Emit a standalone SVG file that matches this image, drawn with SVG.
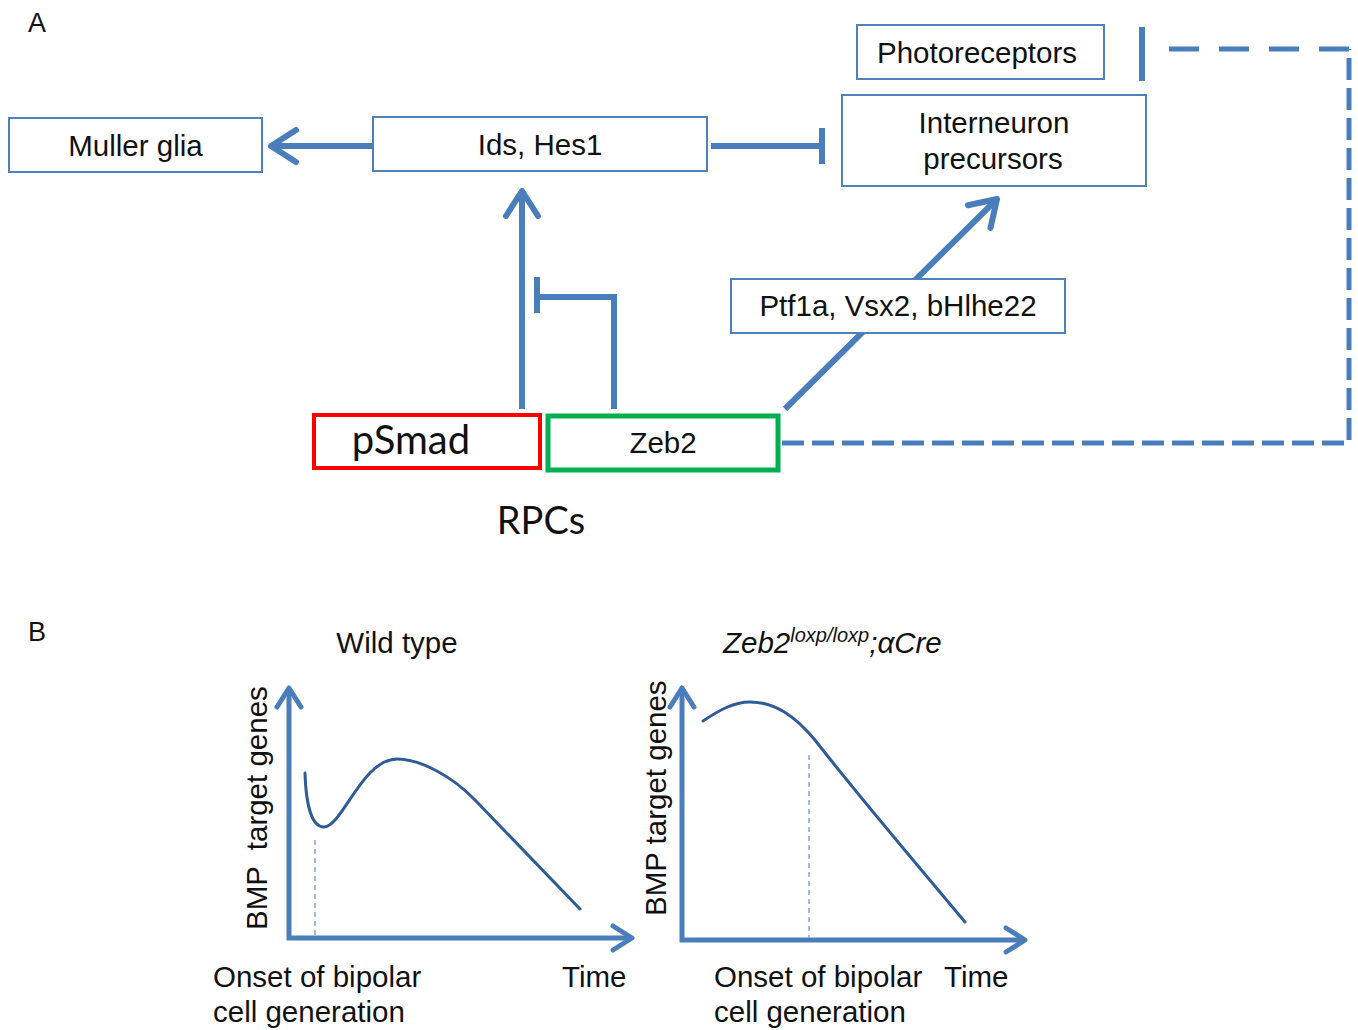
<svg xmlns="http://www.w3.org/2000/svg" width="1358" height="1030" viewBox="0 0 1358 1030">
  <style>
    .box { fill: #ffffff; stroke: #4f81bd; stroke-width: 2; }
    .lbl { font-family: "Liberation Sans", Arial, sans-serif; font-size: 29.5px; fill: #111111; }
    .cal { font-family: Lato, "Open Sans", sans-serif; fill: #111111; }
    .edge { fill: none; stroke: #4a7ebb; stroke-width: 6; }
    .dash { fill: none; stroke: #4a7ebb; stroke-width: 5; }
    .axis { fill: none; stroke: #4a7ebb; stroke-width: 5; }
    .curve { fill: none; stroke: #2f5b96; stroke-width: 3; stroke-linecap: round; }
    .guide { fill: none; stroke: #7ea6d6; stroke-width: 1.5; stroke-dasharray: 5 4; }
    .panel { font-family: "Liberation Sans", Arial, sans-serif; font-size: 27px; fill: #111111; }
  </style>
  <defs>
    <marker id="chev" markerUnits="userSpaceOnUse" markerWidth="60" markerHeight="60" viewBox="-40 -30 60 60" refX="0" refY="0" orient="auto" overflow="visible">
      <path d="M-25,-16 L0,0 L-25,16" fill="none" stroke="#4a7ebb" stroke-width="6" stroke-linecap="round" stroke-linejoin="round"/>
    </marker>
    <marker id="axchev" markerUnits="userSpaceOnUse" markerWidth="60" markerHeight="60" viewBox="-40 -30 60 60" refX="0" refY="0" orient="auto-start-reverse" overflow="visible">
      <path d="M-19,-12 L0,0 L-19,12" fill="none" stroke="#4a7ebb" stroke-width="5" stroke-linecap="round" stroke-linejoin="round"/>
    </marker>
  </defs>
  <rect width="1358" height="1030" fill="#ffffff"/>

  <!-- Panel A -->
  <text class="panel" x="28" y="32">A</text>

  <g id="connectors">
    <!-- Ids, Hes1 to Muller glia -->
    <line class="edge" x1="373" y1="146" x2="271" y2="146" marker-end="url(#chev)"/>
    <!-- Ids, Hes1 inhibits interneuron precursors -->
    <line class="edge" x1="711" y1="146" x2="822" y2="146"/>
    <line class="edge" x1="822" y1="128" x2="822" y2="164"/>
    <!-- pSmad activates Ids, Hes1 -->
    <line class="edge" x1="522" y1="409" x2="522" y2="191" marker-end="url(#chev)"/>
    <!-- Zeb2 blocks the pSmad arrow -->
    <polyline class="edge" points="614,409 614,297 538,297"/>
    <line class="edge" x1="537" y1="277" x2="537" y2="313"/>
    <!-- Zeb2 to interneuron precursors -->
    <line class="edge" x1="785" y1="409" x2="997" y2="199" marker-end="url(#chev)"/>
    <!-- Zeb2 dashed inhibition of photoreceptors -->
    <polyline class="dash" points="782,443 1349,443 1349,49" stroke-dasharray="22 8"/>
    <line class="dash" x1="1349" y1="49" x2="1162" y2="49" stroke-dasharray="30 20"/>
    <line class="edge" x1="1142" y1="27" x2="1142" y2="81"/>
  </g>

  <g id="muller-glia">
    <rect class="box" x="9" y="118" width="253" height="54"/>
    <text class="lbl" x="135.5" y="156" text-anchor="middle">Muller glia</text>
  </g>
  <g id="ids-hes1">
    <rect class="box" x="373" y="117" width="334" height="54"/>
    <text class="lbl" x="540" y="155" text-anchor="middle">Ids, Hes1</text>
  </g>
  <g id="photoreceptors">
    <rect class="box" x="857" y="25" width="247" height="54"/>
    <text class="lbl" x="977" y="63" text-anchor="middle">Photoreceptors</text>
  </g>
  <g id="interneuron-precursors">
    <rect class="box" x="842" y="95" width="304" height="91"/>
    <text class="lbl" x="994" y="133" text-anchor="middle">Interneuron</text>
    <text class="lbl" x="993" y="169" text-anchor="middle">precursors</text>
  </g>
  <g id="ptf1a">
    <rect class="box" x="731" y="279" width="334" height="54"/>
    <text class="lbl" x="898" y="316" text-anchor="middle">Ptf1a, Vsx2, bHlhe22</text>
  </g>
  <g id="psmad">
    <rect x="314" y="415" width="226" height="53" fill="#ffffff" stroke="#ff0000" stroke-width="4"/>
    <text class="cal" x="411" y="454" font-size="40" text-anchor="middle">pSmad</text>
  </g>
  <g id="zeb2">
    <rect x="548" y="416" width="230" height="54" fill="#ffffff" stroke="#00b050" stroke-width="5"/>
    <text class="lbl" x="663" y="453" text-anchor="middle">Zeb2</text>
  </g>
  <g id="rpcs">
    <text class="cal" x="541" y="534" font-size="38" text-anchor="middle">RPCs</text>
  </g>

  <!-- Panel B -->
  <text class="panel" x="28" y="641">B</text>

  <g id="chart-wild-type">
    <text class="lbl" x="397" y="653" text-anchor="middle">Wild type</text>
    <polyline class="axis" points="289,688 289,938 632,938" marker-start="url(#axchev)" marker-end="url(#axchev)"/>
    <line class="guide" x1="315" y1="840" x2="315" y2="935"/>
    <path class="curve" d="M305,773 C306,806 312,827 324,827 C342,827 362,759 397,759 C420,759 452,776 475,800 L580,909"/>
    <text class="lbl" transform="translate(267,930) rotate(-90)" xml:space="preserve">BMP  target genes</text>
    <text class="lbl" x="213" y="987">Onset of bipolar</text>
    <text class="lbl" x="213" y="1022">cell generation</text>
    <text class="lbl" x="562" y="987">Time</text>
  </g>

  <g id="chart-zeb2-mutant">
    <text class="lbl" x="723" y="653" font-style="italic">Zeb2<tspan font-size="20" dy="-11">loxp/loxp</tspan><tspan dy="11">;αCre</tspan></text>
    <polyline class="axis" points="682,688 682,940 1025,940" marker-start="url(#axchev)" marker-end="url(#axchev)"/>
    <line class="guide" x1="809" y1="755" x2="809" y2="938"/>
    <path class="curve" d="M703,721 C718,711 733,702 750,702 C775,702 795,716 815,740 C860,798 915,862 965,922"/>
    <text class="lbl" transform="translate(666,916) rotate(-90)">BMP target genes</text>
    <text class="lbl" x="714" y="987">Onset of bipolar</text>
    <text class="lbl" x="714" y="1022">cell generation</text>
    <text class="lbl" x="944" y="987">Time</text>
  </g>
</svg>
